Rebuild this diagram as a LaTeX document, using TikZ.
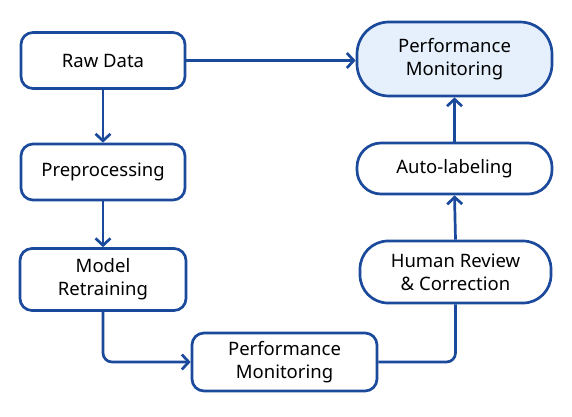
\documentclass[tikz,border=0pt]{standalone}
\usepackage{fontspec}
\setmainfont{Noto Sans}
\usetikzlibrary{arrows.meta}
\definecolor{lineblue}{HTML}{1B4A9C}
\definecolor{fillblue}{HTML}{E6F0FC}
\tikzset{
  box/.style={draw=lineblue, line width=2.7pt, fill=white, rounded corners=12pt,
    align=center, inner sep=0pt, font=\fontsize{18.5}{23}\selectfont, text=black},
  conn/.style={draw=lineblue, line width=2.7pt, rounded corners=9pt},
  arr/.style={conn, -{Straight Barb[length=7pt,width=15pt,line width=2.7pt]}},
}
\begin{document}
\begin{tikzpicture}[x=1pt,y=-1pt]
\useasboundingbox (0,0) rectangle (572,416);
\fill[white] (0,0) rectangle (572,416);
\node[box, minimum width=164pt, minimum height=56pt] (raw) at (103,60.5) {Raw Data};
\node[box, minimum width=164pt, minimum height=56pt] (pre) at (103,172) {Preprocessing};
\node[box, minimum width=166pt, minimum height=62pt] (model) at (103,279.5) {Model\\Retraining};
\node[box, minimum width=185pt, minimum height=58pt] (pm1) at (284.5,362) {Performance\\Monitoring};
\node[box, rounded corners=28pt, minimum width=191pt, minimum height=62pt] (human) at (455.5,272) {Human Review\\\& Correction};
\node[box, rounded corners=24pt, minimum width=195pt, minimum height=51pt] (auto) at (454.5,168.5) {Auto-labeling};
\node[box, fill=fillblue, rounded corners=32pt, minimum width=195pt, minimum height=74pt] (pm2) at (454.5,59) {Performance\\Monitoring};
\draw[arr] (raw.east) -- (pm2.west |- raw.east);
\draw[arr] (raw.south) -- (pre.north);
\draw[arr] (pre.south) -- (model.north);
\draw[arr] (model.south) |- (pm1.west);
\draw[conn] (pm1.east) -| (human.south);
\draw[arr] (human.north) -- (auto.south);
\draw[arr] (auto.north) -- (pm2.south);
\end{tikzpicture}
\end{document}
